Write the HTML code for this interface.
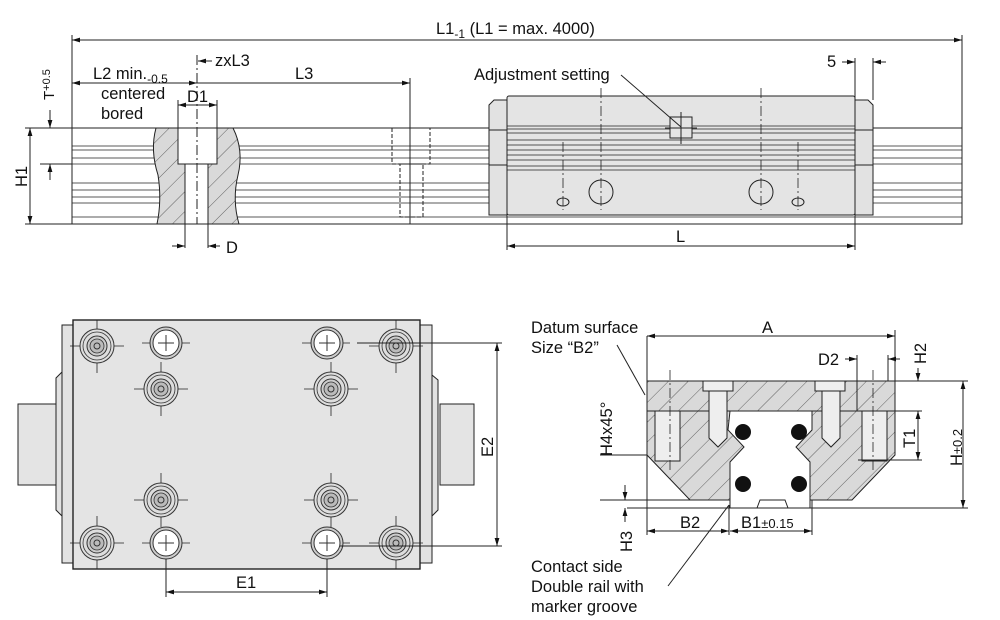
<!DOCTYPE html>
<html><head><meta charset="utf-8"><style>
html,body{margin:0;padding:0;background:#fff}
svg{display:block;font-family:"Liberation Sans",sans-serif}
</style></head><body>
<svg width="1000" height="620" viewBox="0 0 1000 620" xmlns="http://www.w3.org/2000/svg">
<defs>
<pattern id="h" width="14" height="14" patternUnits="userSpaceOnUse" patternTransform="rotate(45)">
<rect width="14" height="14" fill="#d9d9d9"/><line x1="0" y1="0" x2="0" y2="14" stroke="#444" stroke-width="0.8"/></pattern>
<marker id="a" viewBox="0 0 10 10" refX="10" refY="5" markerWidth="8" markerHeight="8" orient="auto-start-reverse"><path d="M0,2 L10,5 L0,8z" fill="#111"/></marker>
<g id="scr"><circle r="17" fill="#ddd" stroke="#333" stroke-width="1"/><circle r="14" fill="none" stroke="#333" stroke-width="0.8"/><circle r="10" fill="#ccc" stroke="#333"/><circle r="7" fill="#bbb" stroke="#333" stroke-width="0.8"/><circle r="3" fill="none" stroke="#333"/></g>
<g id="hol"><circle r="16" fill="#ccc" stroke="#333"/><circle r="13" fill="#fff" stroke="#333"/><line x1="-8" y1="0" x2="8" y2="0" stroke="#333"/><line x1="0" y1="-8" x2="0" y2="8" stroke="#333"/></g>
</defs>
<g stroke="#222" stroke-width="1" fill="none">
<line x1="72" y1="35" x2="72" y2="224"/><line x1="962" y1="35" x2="962" y2="224"/>
<line x1="72" y1="40" x2="962" y2="40" marker-start="url(#a)" marker-end="url(#a)"/>
<rect x="72" y="128" width="890" height="96" fill="#fff"/>
<g stroke-width="0.8"><line x1="72" y1="146" x2="962" y2="146"/><line x1="72" y1="150" x2="962" y2="150"/><line x1="72" y1="158" x2="962" y2="158"/><line x1="72" y1="164" x2="962" y2="164"/><line x1="72" y1="183" x2="962" y2="183"/><line x1="72" y1="190" x2="962" y2="190"/><line x1="72" y1="197" x2="962" y2="197"/><line x1="72" y1="203" x2="962" y2="203"/><line x1="72" y1="217" x2="962" y2="217"/></g>
<path d="M156,128 Q150,150 158,175 Q162,200 157,224 L239,224 Q232,200 238,175 Q244,150 233,128z" fill="url(#h)"/>
<rect x="178" y="128" width="39" height="36" fill="#fff"/><rect x="185" y="164" width="23" height="60" fill="#fff"/>
<line x1="197" y1="55" x2="197" y2="224" stroke-dasharray="10,3,2,3"/>
<line x1="185" y1="164" x2="185" y2="248"/><line x1="208" y1="164" x2="208" y2="248"/>
<line x1="172" y1="246" x2="185" y2="246" marker-end="url(#a)"/><line x1="220" y1="246" x2="208" y2="246" marker-end="url(#a)"/>
<line x1="178" y1="100" x2="178" y2="128"/><line x1="217" y1="100" x2="217" y2="128"/>
<line x1="178" y1="105" x2="217" y2="105" marker-start="url(#a)" marker-end="url(#a)"/>
<line x1="72" y1="83" x2="197" y2="83" marker-start="url(#a)" marker-end="url(#a)"/>
<line x1="197" y1="83" x2="410" y2="83" marker-end="url(#a)"/>
<line x1="410" y1="78" x2="410" y2="224"/>
<line x1="212" y1="61" x2="198" y2="61" marker-end="url(#a)"/>
<g stroke-dasharray="4,2"><rect x="392" y="128" width="38" height="36"/><rect x="400" y="164" width="23" height="53"/></g>
<line x1="25" y1="128" x2="72" y2="128"/><line x1="25" y1="224" x2="72" y2="224"/><line x1="40" y1="164" x2="72" y2="164"/>
<line x1="30" y1="128" x2="30" y2="224" marker-start="url(#a)" marker-end="url(#a)"/>
<line x1="50" y1="110" x2="50" y2="128" marker-end="url(#a)"/><line x1="50" y1="180" x2="50" y2="164" marker-end="url(#a)"/>
<path d="M489,105 L494,100 L507,100 L507,215 L489,215z" fill="#e2e2e2"/>
<path d="M855,100 L868,100 L873,105 L873,215 L855,215z" fill="#e2e2e2"/>
<line x1="489" y1="130" x2="507" y2="130"/><line x1="489" y1="165" x2="507" y2="165"/><line x1="855" y1="130" x2="873" y2="130"/><line x1="855" y1="165" x2="873" y2="165"/>
<rect x="507" y="96" width="348" height="119" rx="2" fill="#e4e4e4"/>
<g stroke-width="0.8"><line x1="507" y1="126" x2="855" y2="126"/><line x1="507" y1="129" x2="855" y2="129"/><line x1="507" y1="133" x2="855" y2="133"/><line x1="507" y1="140" x2="855" y2="140"/><line x1="507" y1="145" x2="855" y2="145"/><line x1="507" y1="150" x2="855" y2="150"/><line x1="507" y1="155" x2="855" y2="155"/><line x1="507" y1="160" x2="855" y2="160"/><line x1="507" y1="166" x2="855" y2="166"/><line x1="507" y1="170" x2="855" y2="170"/></g>
<rect x="670" y="117" width="22" height="21" fill="#e4e4e4"/><line x1="681" y1="112" x2="681" y2="144"/><line x1="665" y1="128" x2="697" y2="128"/>
<line x1="621" y1="75" x2="681" y2="127"/>
<g stroke-dasharray="10,3,2,3" stroke-width="0.8"><line x1="601" y1="88" x2="601" y2="210"/><line x1="761" y1="88" x2="761" y2="210"/><line x1="563" y1="142" x2="563" y2="210"/><line x1="798" y1="142" x2="798" y2="210"/></g>
<circle cx="601" cy="192" r="12"/><circle cx="761" cy="192" r="12"/>
<ellipse cx="563" cy="202" rx="6" ry="4"/><ellipse cx="798" cy="202" rx="6" ry="4"/>
<line x1="507" y1="215" x2="507" y2="250"/><line x1="855" y1="58" x2="855" y2="250"/><line x1="873" y1="58" x2="873" y2="100"/>
<line x1="507" y1="246" x2="855" y2="246" marker-start="url(#a)" marker-end="url(#a)"/>
<line x1="842" y1="62" x2="855" y2="62" marker-end="url(#a)"/><line x1="886" y1="62" x2="873" y2="62" marker-end="url(#a)"/>
<rect x="18" y="404" width="38" height="81" fill="#e4e4e4"/>
<path d="M56,378 L62,372 L62,516 L56,510z" fill="#e2e2e2"/>
<rect x="62" y="325" width="11" height="238" fill="#e2e2e2"/>
<rect x="440" y="404" width="34" height="81" fill="#e4e4e4"/>
<path d="M432,375 L438,380 L438,510 L432,516z" fill="#e2e2e2"/>
<rect x="420" y="325" width="12" height="238" fill="#e2e2e2"/>
<rect x="73" y="320" width="347" height="249" fill="#e4e4e4" stroke-width="1.4"/>
<g stroke-width="0.8">
<line x1="70" y1="346" x2="124" y2="346"/><line x1="97" y1="320" x2="97" y2="373"/>
<line x1="70" y1="543" x2="124" y2="543"/><line x1="97" y1="516" x2="97" y2="569"/>
<line x1="369" y1="346" x2="423" y2="346"/><line x1="396" y1="320" x2="396" y2="373"/>
<line x1="369" y1="543" x2="423" y2="543"/><line x1="396" y1="516" x2="396" y2="569"/>
<line x1="134" y1="389" x2="188" y2="389"/><line x1="161" y1="362" x2="161" y2="416"/>
<line x1="134" y1="500" x2="188" y2="500"/><line x1="161" y1="473" x2="161" y2="527"/>
<line x1="304" y1="389" x2="358" y2="389"/><line x1="331" y1="362" x2="331" y2="416"/>
<line x1="304" y1="500" x2="358" y2="500"/><line x1="331" y1="473" x2="331" y2="527"/>
<line x1="142" y1="343" x2="190" y2="343"/><line x1="302" y1="343" x2="350" y2="343"/>
<line x1="142" y1="543" x2="190" y2="543"/><line x1="302" y1="543" x2="350" y2="543"/>
</g>
<use href="#scr" x="97" y="346"/><use href="#scr" x="396" y="346"/><use href="#scr" x="97" y="543"/><use href="#scr" x="396" y="543"/>
<use href="#scr" x="161" y="389"/><use href="#scr" x="331" y="389"/><use href="#scr" x="161" y="500"/><use href="#scr" x="331" y="500"/>
<use href="#hol" x="166" y="343"/><use href="#hol" x="327" y="343"/><use href="#hol" x="166" y="543"/><use href="#hol" x="327" y="543"/>
<line x1="166" y1="559" x2="166" y2="597"/><line x1="327" y1="559" x2="327" y2="597"/>
<line x1="166" y1="592" x2="327" y2="592" marker-start="url(#a)" marker-end="url(#a)"/>
<line x1="357" y1="343" x2="502" y2="343"/><line x1="340" y1="546" x2="502" y2="546"/>
<line x1="497" y1="343" x2="497" y2="546" marker-start="url(#a)" marker-end="url(#a)"/>
<path d="M647,381 L895,381 L895,455 L852,500 L690,500 L647,455z" fill="url(#h)"/>
<line x1="647" y1="411" x2="895" y2="411"/>
<rect x="655" y="411" width="25" height="50" fill="#eee"/><rect x="862" y="411" width="25" height="50" fill="#eee"/>
<path d="M730,411 L812,411 L812,430 L796,447 L810,462 L810,508 L730,508 L730,462 L744,447 L728,430z" fill="#fff"/>
<path d="M757,508 L760,500 L785,500 L788,508" />
<g fill="#111" stroke="none"><circle cx="743" cy="432" r="8"/><circle cx="799" cy="432" r="8"/><circle cx="743" cy="484" r="8"/><circle cx="799" cy="484" r="8"/></g>
<rect x="703" y="381" width="30" height="10" fill="#eee"/><rect x="815" y="381" width="30" height="10" fill="#eee"/>
<path d="M709,391 L727,391 L727,438 L718,447 L709,438z" fill="#eee"/><path d="M822,391 L840,391 L840,438 L831,447 L822,438z" fill="#eee"/>
<g stroke-dasharray="10,3,2,3" stroke-width="0.8"><line x1="670" y1="370" x2="670" y2="470"/><line x1="873" y1="370" x2="873" y2="470"/></g>
<line x1="647" y1="336" x2="647" y2="535"/><line x1="895" y1="330" x2="895" y2="381"/>
<line x1="647" y1="336" x2="895" y2="336" marker-start="url(#a)" marker-end="url(#a)"/>
<line x1="857" y1="355" x2="857" y2="411"/><line x1="888" y1="355" x2="888" y2="381"/>
<line x1="845" y1="359" x2="857" y2="359" marker-end="url(#a)"/><line x1="900" y1="359" x2="888" y2="359" marker-end="url(#a)"/>
<line x1="918" y1="368" x2="918" y2="381" marker-end="url(#a)"/>
<line x1="895" y1="381" x2="968" y2="381"/><line x1="895" y1="411" x2="922" y2="411"/><line x1="858" y1="460" x2="922" y2="460"/>
<line x1="918" y1="411" x2="918" y2="460" marker-start="url(#a)" marker-end="url(#a)"/>
<line x1="963" y1="381" x2="963" y2="508" marker-start="url(#a)" marker-end="url(#a)"/>
<line x1="627" y1="508" x2="968" y2="508"/><line x1="600" y1="500" x2="730" y2="500"/>
<line x1="600" y1="455" x2="647" y2="455"/>
<line x1="625" y1="485" x2="625" y2="500" marker-end="url(#a)"/><line x1="625" y1="522" x2="625" y2="508" marker-end="url(#a)"/>
<line x1="729" y1="505" x2="729" y2="535"/><line x1="812" y1="500" x2="812" y2="535"/>
<line x1="647" y1="531" x2="729" y2="531" marker-start="url(#a)" marker-end="url(#a)"/>
<line x1="730" y1="531" x2="812" y2="531" marker-start="url(#a)" marker-end="url(#a)"/>
<line x1="617" y1="345" x2="645" y2="395"/>
<line x1="668" y1="586" x2="729" y2="505"/>
</g>
<g fill="#111" font-size="16.5">
<text x="436" y="34">L1<tspan font-size="12" dy="4">-1</tspan><tspan dy="-4"> (L1 = max. 4000)</tspan></text>
<text x="93" y="79">L2 min.<tspan font-size="12" dy="4">-0.5</tspan></text>
<text x="101" y="99">centered</text><text x="101" y="119">bored</text>
<text x="215" y="66">zxL3</text><text x="295" y="79">L3</text><text x="187" y="102">D1</text>
<text x="226" y="253">D</text>
<text x="474" y="80">Adjustment setting</text><text x="827" y="67">5</text>
<text x="676" y="242">L</text>
<text transform="translate(54,100) rotate(-90)" font-size="15">T<tspan font-size="11" dy="-4">+0.5</tspan></text>
<text transform="translate(27,187) rotate(-90)">H1</text>
<text x="236" y="588">E1</text>
<text transform="translate(493,457) rotate(-90)">E2</text>
<text x="531" y="333">Datum surface</text><text x="531" y="353">Size “B2”</text>
<text x="762" y="333">A</text><text x="818" y="365">D2</text>
<text transform="translate(926,364) rotate(-90)">H2</text>
<text transform="translate(612,456) rotate(-90)">H4x45°</text>
<text transform="translate(915,448) rotate(-90)">T1</text>
<text transform="translate(962,466) rotate(-90)">H<tspan font-size="13">±0.2</tspan></text>
<text x="680" y="528">B2</text><text x="741" y="528">B1<tspan font-size="13">±0.15</tspan></text>
<text transform="translate(632,552) rotate(-90)">H3</text>
<text x="531" y="572">Contact side</text><text x="531" y="592">Double rail with</text><text x="531" y="612">marker groove</text>
</g>
</svg>
</body></html>
